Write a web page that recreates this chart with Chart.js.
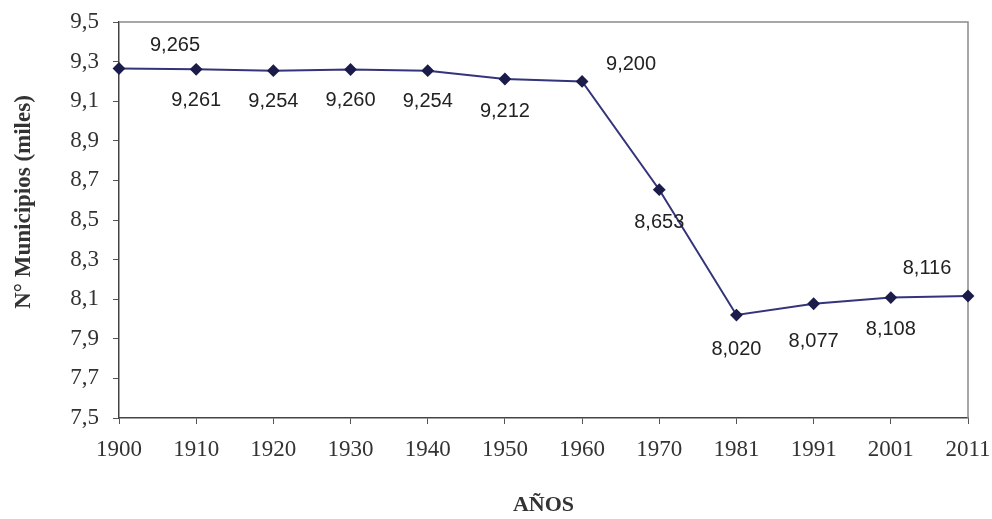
<!DOCTYPE html>
<html>
<head>
<meta charset="utf-8">
<script src="https://cdn.jsdelivr.net/npm/chart.js@4/dist/chart.umd.min.js"></script>
<style>
  html, body { margin: 0; padding: 0; background: #fff; }
  #wrap { width: 992px; height: 519px; }
</style>
</head>
<body>
<div id="wrap"><canvas id="municipiosChart" width="992" height="519"></canvas></div>
<script>
// Data
const years = ["1900", "1910", "1920", "1930", "1940", "1950", "1960", "1970", "1981", "1991", "2001", "2011"];
const municipios = [9.265, 9.261, 9.254, 9.26, 9.254, 9.212, 9.2, 8.653, 8.02, 8.077, 8.108, 8.116];
const yTicks = [7.5, 7.7, 7.9, 8.1, 8.3, 8.5, 8.7, 8.9, 9.1, 9.3, 9.5];

// Where each value label sits relative to its point (dx, dy in px)
const labelPlacement = [
  [56, -23], [0, 31], [0, 31], [0, 31], [0, 31], [0, 32],
  [49, -17], [0, 33], [0, 34], [0, 38], [0, 32], [-41, -28]
];

const serif = "'Liberation Serif', 'Times New Roman', serif";

// Comma as decimal separator
function comma(v, d) {
  return v.toFixed(d).replace(".", ",");
}

// Frame around the plot area (light top/right) + y axis title
const frame = {
  id: "frame",
  beforeDatasetsDraw(chart) {
    const { ctx, chartArea: a } = chart;
    ctx.save();
    ctx.strokeStyle = "#8a8a8a";
    ctx.lineWidth = 1.5;
    ctx.beginPath();
    ctx.moveTo(a.left, a.top);
    ctx.lineTo(a.right, a.top);
    ctx.lineTo(a.right, a.bottom);
    ctx.stroke();

    // y title, sits a bit above the middle of the axis like the original
    ctx.translate(24, (a.top + a.bottom) / 2 - 18);
    ctx.rotate(-Math.PI / 2);
    ctx.font = "bold 23px " + serif;
    ctx.fillStyle = "#333";
    ctx.textAlign = "center";
    ctx.textBaseline = "middle";
    ctx.fillText("N° Municipios (miles)", 0, 0);
    ctx.restore();
  },
};

// Value labels next to each point
const valueLabels = {
  id: "valueLabels",
  afterDatasetsDraw(chart) {
    const { ctx } = chart;
    const meta = chart.getDatasetMeta(0);
    ctx.save();
    ctx.font = "20px 'Liberation Sans', Arial, sans-serif";
    ctx.fillStyle = "#222";
    ctx.textAlign = "center";
    ctx.textBaseline = "middle";
    meta.data.forEach((pt, i) => {
      const off = labelPlacement[i];
      ctx.fillText(comma(municipios[i], 3), pt.x + off[0], pt.y + off[1]);
    });
    ctx.restore();
  },
};

const ctx = document.getElementById("municipiosChart").getContext("2d");

const municipiosChart = new Chart(ctx, {
  type: "line",
  data: {
    labels: years,
    datasets: [
      {
        data: municipios,
        borderColor: "#34347a",
        borderWidth: 2,
        pointStyle: "rectRot",
        pointRadius: 5,
        pointBackgroundColor: "#1c1c4a",
        pointBorderColor: "#1c1c4a",
        tension: 0,
      },
    ],
  },
  options: {
    responsive: false,
    animation: false,
    layout: { padding: { left: 0, right: 24, top: 22, bottom: 0 } },
    plugins: {
      legend: { display: false },
      tooltip: { enabled: false },
    },
    scales: {
      x: {
        offset: false,
        afterFit: (s) => {
          s.height = 101;
          s.paddingLeft = 0;
          s.paddingRight = 0;
        },
        grid: {
          drawOnChartArea: false,
          drawTicks: true,
          tickLength: 6,
          color: "#555",
        },
        border: { color: "#444", width: 1.5 },
        ticks: {
          padding: 12,
          color: "#333",
          maxRotation: 0,
          font: { family: serif, size: 23 },
        },
        title: {
          display: true,
          text: "AÑOS",
          color: "#333",
          padding: { top: 0, bottom: 0 },
          font: { family: serif, size: 22, weight: "bold" },
        },
      },
      y: {
        min: 7.5,
        max: 9.5,
        afterFit: (s) => {
          s.width = 119;
          s.paddingTop = 0;
          s.paddingBottom = 0;
        },
        afterBuildTicks: (s) => { s.ticks = yTicks.map((v) => ({ value: v })); },
        grid: {
          drawOnChartArea: false,
          drawTicks: true,
          tickLength: 6,
          color: "#555",
        },
        border: { color: "#444", width: 1.5 },
        ticks: {
          padding: 14,
          color: "#333",
          font: { family: serif, size: 23 },
          callback: (v) => comma(v, 1),
        },
      },
    },
  },
  plugins: [frame, valueLabels],
});
</script>
</body>
</html>
